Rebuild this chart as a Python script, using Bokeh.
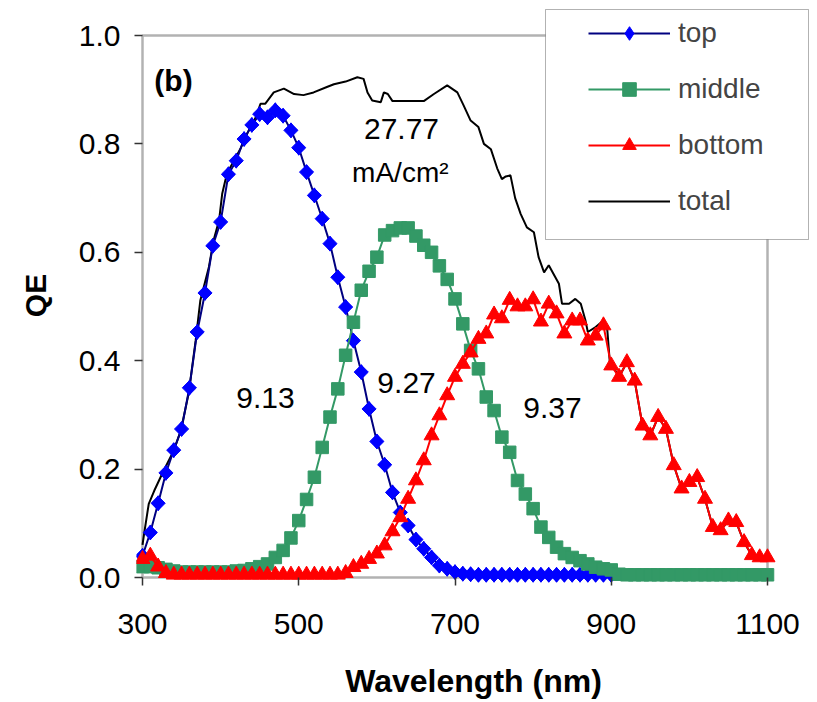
from bokeh.plotting import figure
from bokeh.models import (Range1d, FixedTicker, NumeralTickFormatter, Legend,
                          LegendItem, Label, BoxAnnotation)
from bokeh.embed import file_html
from bokeh.resources import INLINE

# Sub-cell quantum efficiency of a triple-junction cell
wl_top = list(range(300, 910, 10))
qe_top = [0.04, 0.083, 0.137, 0.193, 0.235, 0.274, 0.35, 0.453, 0.525, 0.612,
          0.656, 0.744, 0.769, 0.809, 0.835, 0.855, 0.849, 0.862, 0.852, 0.825,
          0.793, 0.748, 0.705, 0.662, 0.616, 0.554, 0.499, 0.437, 0.379, 0.311,
          0.251, 0.208, 0.157, 0.12, 0.096, 0.07, 0.053, 0.037, 0.022, 0.016,
          0.01, 0.007, 0.006, 0.005, 0.005, 0.005, 0.005, 0.005, 0.005, 0.005,
          0.005, 0.005, 0.005, 0.005, 0.005, 0.005, 0.005, 0.005, 0.005, 0.005,
          0.005]

wl_mid = list(range(300, 1110, 10))
qe_mid = [0.02, 0.02, 0.018, 0.015, 0.012, 0.01, 0.01, 0.01, 0.01, 0.01,
          0.01, 0.01, 0.012, 0.013, 0.016, 0.02, 0.025, 0.037, 0.05, 0.073,
          0.105, 0.144, 0.185, 0.24, 0.296, 0.348, 0.41, 0.471, 0.53, 0.565,
          0.591, 0.632, 0.64, 0.645, 0.645, 0.63, 0.613, 0.6, 0.575, 0.55,
          0.514, 0.468, 0.419, 0.385, 0.333, 0.308, 0.259, 0.231, 0.179, 0.154,
          0.127, 0.093, 0.074, 0.056, 0.044, 0.037, 0.031, 0.025, 0.019, 0.016,
          0.014, 0.006, 0.005, 0.005, 0.005, 0.005, 0.005, 0.005, 0.005, 0.005,
          0.005, 0.005, 0.005, 0.005, 0.005, 0.005, 0.005, 0.005, 0.005, 0.005,
          0.005]

wl_bot = list(range(300, 1110, 10))
qe_bot = [0.034, 0.04, 0.02, 0.008, 0.005, 0.005, 0.005, 0.005, 0.005, 0.005,
          0.005, 0.005, 0.005, 0.005, 0.005, 0.005, 0.005, 0.005, 0.005, 0.005,
          0.005, 0.005, 0.005, 0.005, 0.005, 0.005, 0.008, 0.019, 0.025, 0.034,
          0.044, 0.059, 0.085, 0.111, 0.145, 0.179, 0.216, 0.262, 0.299, 0.336,
          0.37, 0.394, 0.415, 0.44, 0.45, 0.485, 0.478, 0.512, 0.5, 0.5,
          0.513, 0.472, 0.505, 0.487, 0.45, 0.474, 0.474, 0.437, 0.446, 0.465,
          0.391, 0.37, 0.397, 0.363, 0.28, 0.262, 0.296, 0.274, 0.207, 0.164,
          0.176, 0.185, 0.145, 0.093, 0.087, 0.105, 0.102, 0.065, 0.041, 0.037,
          0.037]

wl_total = [300, 302, 308, 315, 327, 340, 349, 359, 368, 374,
            385, 391, 398, 402, 408, 417, 425, 434, 445, 451,
            457, 468, 481, 494, 506, 519, 536, 545, 560, 575,
            583, 588, 594, 605, 609, 614, 620, 660, 673, 690,
            703, 711, 720, 730, 737, 746, 754, 760, 765, 771,
            777, 784, 792, 801, 807, 814, 820, 833, 837, 846,
            854, 861, 867, 870, 880, 890, 895, 898, 910, 920,
            930, 940, 950, 960, 970, 980, 990, 1000, 1010, 1020,
            1030, 1040, 1050, 1060, 1070, 1080, 1090, 1100]
qe_total = [0.06, 0.08, 0.136, 0.16, 0.197, 0.234, 0.271, 0.339, 0.437, 0.511,
            0.573, 0.622, 0.659, 0.708, 0.745, 0.769, 0.79, 0.819, 0.849, 0.874,
            0.874, 0.895, 0.902, 0.892, 0.89, 0.895, 0.905, 0.91, 0.915, 0.923,
            0.92, 0.895, 0.88, 0.877, 0.895, 0.892, 0.879, 0.879, 0.892, 0.908,
            0.895, 0.871, 0.843, 0.831, 0.80, 0.79, 0.755, 0.735, 0.74, 0.742,
            0.70, 0.671, 0.646, 0.637, 0.591, 0.563, 0.576, 0.542, 0.505, 0.505,
            0.514, 0.505, 0.474, 0.453, 0.462, 0.474, 0.456, 0.40, 0.37, 0.397,
            0.363, 0.28, 0.262, 0.296, 0.274, 0.207, 0.164, 0.176, 0.185, 0.145,
            0.093, 0.087, 0.105, 0.102, 0.065, 0.041, 0.037, 0.037]

x_ticks = [300, 500, 700, 900, 1100]
y_ticks = [0.0, 0.2, 0.4, 0.6, 0.8, 1.0]
x_lo, x_hi = 300, 1100
y_lo, y_hi = 0.0, 1.0

# current densities (mA/cm2) written on the plot
j_top, j_mid, j_bot, j_total = "9.13", "9.27", "9.37", "27.77"

FONT = "Liberation Sans"

# The drawing area is a little larger than the axes box so that the legend
# and the edge markers can overhang it; the axes box itself is drawn below.
PX_X = 625 / (x_hi - x_lo)        # px per nm
PX_Y = 542 / (y_hi - y_lo)        # px per QE unit
PAD_L, PAD_B, PAD_R, PAD_T = 6, 6, 43, 28

p = figure(width=817, height=702, output_backend="svg", toolbar_location=None,
           x_range=Range1d(x_lo - PAD_L / PX_X, x_hi + PAD_R / PX_X),
           y_range=Range1d(y_lo - PAD_B / PX_Y, y_hi + PAD_T / PX_Y),
           min_border_left=142 - PAD_L, min_border_right=50 - PAD_R,
           min_border_top=35 - PAD_T, min_border_bottom=125 - PAD_B)
p.xgrid.visible = False
p.ygrid.visible = False
p.outline_line_color = None
p.background_fill_color = "white"
p.border_fill_color = "white"

for ax in (p.xaxis[0], p.yaxis[0]):
    ax.axis_line_color = None
    ax.major_tick_line_color = "#333333"
    ax.major_tick_line_width = 1.5
    ax.major_tick_in = 6
    ax.major_tick_out = 2
    ax.minor_tick_line_color = None
    ax.major_label_text_font = FONT
    ax.major_label_text_font_size = "30px"
    ax.major_label_text_color = "black"
    ax.axis_label_text_font = FONT
    ax.axis_label_text_font_style = "bold"
    ax.axis_label_text_color = "black"

p.xaxis.ticker = FixedTicker(ticks=x_ticks)
p.yaxis.ticker = FixedTicker(ticks=y_ticks)
p.yaxis.formatter = NumeralTickFormatter(format="0.0")
p.xaxis.axis_label = "Wavelength (nm)"
p.yaxis.axis_label = "QE"
p.xaxis.axis_label_text_font_size = "32px"
p.yaxis.axis_label_text_font_size = "30px"
p.xaxis.major_label_standoff = 28
p.yaxis.major_label_standoff = 14
p.xaxis.axis_label_standoff = 26
p.yaxis.axis_label_standoff = 24

# axes box
frame = BoxAnnotation(left=x_lo, right=x_hi, bottom=y_lo, top=y_hi,
                      fill_alpha=0, line_color="black", line_width=2.5,
                      level="underlay")
p.add_layout(frame)

# total curve underneath the sub-cell curves
r_total = p.line(wl_total, qe_total, line_color="black", line_width=2)

r_top_l = p.line(wl_top, qe_top, line_color="#000080", line_width=2)
r_top_d = p.scatter(wl_top, qe_top, marker="diamond", size=15,
                    fill_color="#0000FF", line_color="#0000FF")
p.scatter(wl_top, qe_top, marker="square", angle=0.785, size=10,
          fill_color="#0000FF", line_color="#0000FF")

r_mid_l = p.line(wl_mid, qe_mid, line_color="#339966", line_width=2)
r_mid_m = p.scatter(wl_mid, qe_mid, marker="square", size=12.5,
                    fill_color="#339966", line_color="#339966")

r_bot_l = p.line(wl_bot, qe_bot, line_color="#FF0000", line_width=2)
r_bot_m = p.scatter(wl_bot, qe_bot, marker="triangle", size=15,
                    fill_color="#FF0000", line_color="#FF0000")

# legend frame
box = BoxAnnotation(left=545, right=808, top=9, bottom=239,
                    left_units="canvas", right_units="canvas",
                    top_units="canvas", bottom_units="canvas",
                    fill_color="white", fill_alpha=1.0,
                    line_color="black", line_width=1)
p.add_layout(box)

legend = Legend(items=[
    LegendItem(label="top", renderers=[r_top_l, r_top_d]),
    LegendItem(label="middle", renderers=[r_mid_l, r_mid_m]),
    LegendItem(label="bottom", renderers=[r_bot_l, r_bot_m]),
    LegendItem(label="total", renderers=[r_total]),
], location=(446, 359), margin=0, padding=6, spacing=22,
    glyph_width=82, glyph_height=34, label_height=34, label_standoff=8,
    label_text_font=FONT, label_text_font_size="28px",
    border_line_alpha=0, background_fill_alpha=0)
p.add_layout(legend)

def note(x, y, text, size="30px", style="normal"):
    p.add_layout(Label(x=x, y=y, text=text, text_font=FONT,
                       text_font_size=size, text_font_style=style,
                       text_align="center", text_baseline="middle",
                       text_color="black"))

note(339.7, 0.917, "(b)", size="30px", style="bold")
note(457.4, 0.332, j_top)
note(638.0, 0.358, j_mid)
note(824.8, 0.312, j_bot)
note(631.5, 0.828, j_total)
note(630.0, 0.747, "mA/cm²", size="28px")

open("out.html", "w").write(file_html(p, INLINE))
